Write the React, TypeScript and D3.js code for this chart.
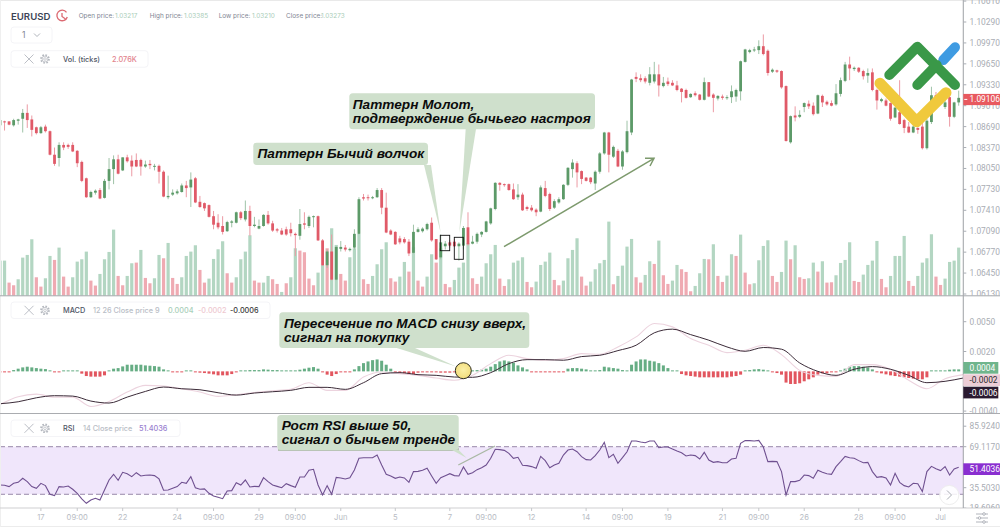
import React from "react";
import * as d3 from "d3";

// Prices are stored in pips above 1.0600
const PRICE_BASE = 1.06;
const opens = [
  271,277,277,271,278,281,290,280,268,259, 269,262,226,221,241,241,241,232,215,190,
  161,168,172,160,186,204,219,202,222,217, 218,218,208,212,208,209,200,161,165,167,
  169,179,176,190,154,152,149,132,122,117, 109,122,122,138,127,140,117,113,117,134,
  121,112,110,112,112,105,102,121,117,131, 132,95,57,78,35,82,84,80,84,105,
  161,161,160,161,172,145,110,108,98,97, 93,76,108,109,112,122,97,69,86,92,
  93,86,87,115,90,93,104,108,121,143, 183,181,181,173,161,165,146,145,142,139,
  175,166,145,153,158,180,204,213,201,191, 191,182,200,228,260,223,232,208,230,260,
  345,343,343,336,338,349,331,338,336,332, 327,325,314,320,318,310,337,318,312,315,
  313,314,315,323,368,383,386,386,392,385, 353,355,354,331,245,286,284,299,304,301,
  289,316,307,305,303,319,339,364,357,359, 354,347,352,325,308,309,305,283,291,279,
  269,260,267,269,236,276,317,310,299,314,284,306,
];
const closes = [
  279,276,272,279,280,290,279,264,259,268, 262,226,212,241,237,238,231,213,186,161,
  169,171,159,186,204,219,197,222,216,208, 208,208,211,210,209,200,162,163,168,170,
  179,175,188,153,146,144,131,119,115,108, 123,124,138,129,140,117,119,117,134,121,
  110,110,104,104,106,103,120,119,131,132, 95,57,78,35,85,85,81,82,105,158,
  159,160,161,172,145,107,104,89,92,92, 75,108,112,113,120,95,66,92,90,87,
  86,90,114,89,93,105,108,124,144,183, 180,180,172,158,165,141,143,141,138,176,
  163,143,155,158,180,206,214,199,189,186, 184,200,228,260,226,238,208,231,262,341,
  342,340,338,349,349,332,336,334,332,325, 322,313,319,317,310,337,315,313,316,313,
  314,323,325,369,387,386,387,392,380,351, 356,353,329,247,285,283,287,305,300,288,
  317,306,303,301,320,340,364,358,359,353, 346,351,325,309,311,301,281,298,273,267,
  260,269,264,236,278,317,309,313,306,284,306,313,
];
const highs = [
  281,278,277,281,281,296,303,286,269,270, 272,263,237,245,245,243,245,233,217,191,
  171,173,175,189,221,225,226,222,226,225, 228,220,217,218,212,211,202,194,173,173,
  182,186,199,192,163,153,150,140,135,132, 125,126,139,140,156,148,131,127,135,140,
  125,114,114,116,122,107,143,138,133,133, 133,97,81,104,86,94,88,84,112,161,
  166,165,163,175,175,168,112,109,102,100, 97,119,115,115,122,130,97,104,94,95,
  97,92,117,138,102,107,109,125,145,184, 184,182,182,182,181,168,148,149,144,179,
  186,168,158,161,181,207,219,216,202,192, 192,202,230,261,261,240,235,233,278,342,
  352,349,346,360,368,364,345,344,340,339, 328,327,320,323,319,344,337,320,317,318,
  317,332,327,370,388,388,391,401,410,387, 358,356,355,332,286,300,294,306,309,306,
  318,318,309,309,334,344,368,376,361,360, 356,358,358,327,313,312,306,299,340,281,
  276,271,268,286,281,330,322,317,314,317,307,324,
];
const lows = [
  268,263,271,269,272,260,267,254,257,258, 260,225,209,208,233,235,230,207,184,160,
  160,165,158,159,173,181,196,201,214,193, 207,194,206,204,202,182,161,158,163,165,
  168,161,146,152,145,140,130,112,112,104, 108,115,121,126,124,102,115,112,116,119,
  108,107,103,102,101,71,96,112,114,115, 94,56,53,34,34,78,78,78,81,104,
  156,156,158,160,135,106,103,88,89,90, 71,75,107,107,110,93,65,66,81,84,
  85,64,81,87,89,90,100,107,119,141, 171,177,171,157,157,140,140,139,132,138,
  161,140,143,151,157,178,191,176,181,185, 181,172,197,226,199,221,207,203,228,256,
  337,337,335,332,335,315,329,331,331,323, 306,312,313,315,309,309,314,291,309,310,
  310,305,307,309,367,381,383,380,378,347, 351,351,327,246,243,277,282,291,296,286,
  288,299,301,300,301,315,337,340,354,351, 341,336,323,295,306,300,278,282,272,259,
  259,259,258,234,234,273,306,306,296,269,282,301,
];
const volumes = [
  105,105,39,31,49,114,122,169,55,27, 52,119,107,144,57,27,55,102,109,132,
  45,30,65,109,131,198,59,31,59,97, 99,137,53,37,52,122,112,158,53,35,
  55,119,132,151,77,39,51,110,139,163, 67,39,55,109,132,181,45,39,39,59,
  49,35,11,37,55,142,135,130,51,31, 69,92,142,202,152,65,45,115,142,185,
  49,35,59,94,139,160,52,42,57,101, 72,145,45,27,57,124,99,142,35,25,
  47,84,99,157,52,35,57,97,124,152, 51,29,49,99,105,115,41,25,42,92,
  102,129,47,31,45,112,137,172,57,30, 42,79,97,107,222,34,59,90,147,170,
  55,39,62,103,95,165,61,35,45,92, 79,71,13,29,67,110,109,154,59,41,
  60,124,119,183,69,34,37,106,149,166, 59,41,71,165,109,151,55,50,52,99,
  72,103,39,40,61,98,107,160,44,41, 63,92,105,164,50,25,59,119,119,179,
  44,29,59,99,112,184,57,32,51,101,105,144,
];
const volumeDirs = [
  "uudduuuudd","uududduuuu","dduuuudduu","dudduududd","uuuudduuuu","dduuuudduu","dduduudddd","uuduu",
  "dduuu","dduuuudduu","dudduududd","uuuudduuuu","dduuuudduu","uudduuuudd","uuuuuduuuu","dduudu",
  "dduu","ddduuududd","uududduuuu","dduududduu","dudduuuudd","uuuudduuuu","dduuuudduuuu",
].join("");
// MACD histogram, in units of 0.0001
const macdHist = [
  -0.7,-0.7,-0.3,1.3,2.7,4,4.7,4,3.3,2.7, 2.3,0.7,-0.3,-0.7,0.2,0.2,0.2,0.2,-2.3,-4.7,
  -5.3,-5.3,-5.3,-4,0.3,2.7,3.3,5,6.7,6.7, 6.7,6.7,6,5.7,5.3,4.7,2,0.3,-0.7,-0.7,
  -0.7,0,0.3,-0.3,-1.3,-1.7,-2.3,-3,-4,-4, -4,-2.7,-1,0.3,1,1.3,1.3,1.3,2,1.7,
  1.3,1.3,1,0.7,1,1,1.7,2.7,3.7,4.3, 2.7,-0.7,-3.3,-4.7,-2.7,-0.3,-0.3,-0.2,2,5.3,
  8.3,10,11.3,12,10.7,6.7,2.7,-0.7,-1.3,-2, -3.3,-2.7,-1.3,-1,-0.3,-0.3,-1,-1.3,-1.3,-1.3,
  -1,0,0.3,0,0.3,1.3,1.7,2.7,4.7,7.3, 10,11,10,8.7,6,4,2,-0.3,-0.3,-0.2,
  -0.2,-0.2,-0.2,-0.3,-0.3,2.7,3.3,3.3,2.7,2, 1,0.7,1.3,4.7,4,3.3,2.7,1.3,1,6.7,
  10,12,12,10.7,10,8.3,6,3.3,0.7,0.1, -2.7,-4,-4.7,-5.3,-6,-6,-6,-6,-6,-6,
  -6,-5.3,-4.7,-3.3,0.2,1.3,2,2.3,1.7,0.2, -0.7,-1.7,-3.3,-11.3,-12.7,-12.7,-12,-10,-8,-6,
  -3.3,-2,-2,-1,-0.3,1,2.7,4.7,5.3,5.3, 4.7,4,2,-0.7,-2,-3,-4,-4.7,-5.3,-6,
  -6.7,-7.3,-8,-8,-6,0.3,0.3,0.3,1,1.7,2,2,
];
// MACD and signal lines, read every 4th bar, in units of 0.0001
const MACD_STEP = 4;
const macdLine = [
  -32.6,-30.6,-26.6,-24.5,-24.9,-29.9,-31.9,-25.9,-20.2,-15.8,-17.5,-18.5,-21.5,-23.9,-21.8,-20.5,-19.1,-16.1,-16.1,
  -18.1,-11.4,-2.3,-1.3,-3.3,-4,-5.7,-6,-1.3,7.8,11.8,11.8,11.2,14.9,16.2,20.9,26.3,38.8,
  42.5,37,31.4,24.6,20.2,24,22.3,8.5,0,-4,2.1,4.8,2.1,-4,-11.4,-10,-6.7,
];
const signalLine = [
  -33.3,-25.5,-22.9,-25.9,-25.9,-35.3,-30.3,-20.8,-14.1,-14.8,-17.5,-20.8,-25.2,-23.5,-21.2,-19.5,-18.1,-11.4,-19.1,
  -19.1,-5.7,-0.6,-2.3,-4,-6.7,-9,-4,7.8,16.2,12.8,11.2,12.8,17.9,17.2,24.6,34.7,48.2,
  44.8,33,26.3,18.9,21.3,26.3,16.9,1,-4,-5,6.8,6.8,2.1,-9,-17.5,-7.4,-3.3,
];
const rsiValues = [
  37.7,37.5,36.4,39.1,39.9,43.2,40.5,36.4,35,39.1, 37.2,30.1,29,36.4,36.1,36.9,34.2,30.9,26.3,22.7,
  25.4,26.8,25.4,33.6,41.8,46.5,41.6,48.1,47,44.6, 47.8,45.1,45.7,45.9,45.4,42.7,33.4,33.6,35,36.4,
  39.9,39.1,44.6,35.5,34.2,34.5,30.9,28.7,27.6,26.5, 32.8,33.1,39.6,37.7,41.8,36.1,36.6,36.4,43.7,40.5,
  37.7,36.6,35.5,38.8,37.2,35.8,44.3,44.3,49.8,50.6, 37.7,29.5,37.2,30.1,44,43.5,42.7,43.7,50,59.6,
  60.1,60.1,60.1,62.3,54.1,46.5,45.1,43.2,44.3,43.5, 39.9,48.7,48.9,49.8,51.4,45.1,39.1,43.7,45.4,47,
  45.4,45.1,52.5,46.5,47.8,50.3,51.9,54.1,59.6,67, 66.7,66.1,63.7,59.6,60.4,53.9,53.6,52.8,51.4,61.2,
  57.7,51.9,54.1,55.5,62.3,66.4,67.2,65,61,58.5, 58.2,61.8,66.4,72.7,60.1,62.9,55.5,60.1,65,73.8,
  73.8,73,72.4,73.8,73.8,68.3,68.9,68.9,67.2,65.6, 64.2,61.5,62.3,61.8,59,64.5,58.2,56.3,56.9,56,
  56,59,59.6,71.9,74.1,74.1,73.8,74.3,68.9,56.9, 57.1,56.9,48.7,29.5,40.5,40.5,41.6,45.9,45.4,43.2,
  49.8,48.1,47,46.5,52.8,56.9,61.2,60.1,59.6,57.7, 56,56.3,48.7,44,44.6,43.5,37.7,47.3,39.9,37.2,
  36.1,39.1,38.8,32.3,48.7,53,51.1,49.5,52.8,45.9,50.8,52.2,
];
const priceTicks = ["1.10610","1.10290","1.09970","1.09650","1.09330","1.09010","1.08690","1.08370","1.08050","1.07730","1.07410","1.07090","1.06770","1.06450","1.06130"];
const macdTicks = ["0.0050","0.0020","-0.0040"];
const rsiTicks = ["85.9240","69.1170","35.5030","18.6960"];
const timeIndex = [9,17,27,39,47,57,65,75,87,99,107,117,129,137,147,159,167,177,189,197,207];
const timeLabels = ["17","09:00","22","24","09:00","29","09:00","Jun","5","7","09:00","12","14","09:00","19","21","09:00","26","28","09:00","Jul"];
const RSI_UPPER = 69.117;
const RSI_LOWER = 30.1;
const LAST_PRICE = 1.09106;

const UP = "#5c9a68", UP_W = "#9fc3a8", DOWN = "#e05a68", DOWN_W = "#ec9aa4";
const VOL_UP = "#b3d6c2", VOL_DOWN = "#efaab2";
const AXIS_X = 963.3;
const FONT = "Inter, Roboto, sans-serif";
const TICK = "#a9adb4";
const CALLOUT = "#cfe0cc";

const x = d3.scaleLinear().domain([0, 211]).range([0, 958.7]);
const yPrice = d3.scaleLinear().domain([1.0613, 1.1029]).range([294, 22]);
const yVol = d3.scaleLinear().domain([0, 222]).range([295.6, 221.6]);
const yMacd = d3.scaleLinear().domain([0.005, -0.004]).range([321.7, 411.1]);
const yRsi = d3.scaleLinear().domain([85.924, 18.696]).range([426.2, 508.2]);
const p = (v: number) => yPrice(PRICE_BASE + v / 10000);
const lineMacd = d3.line<number>().x((_, i) => x(i * MACD_STEP)).y((v) => yMacd(v / 10000)).curve(d3.curveMonotoneX);
const lineRsi = d3.line<number>().x((_, i) => x(i)).y((v) => yRsi(v));

function Gear({ cx, cy }: { cx: number; cy: number }) {
  return (
    <g fill="none" stroke="#b4b8bf">
      <circle cx={cx} cy={cy} r={3.9} strokeWidth={1.8} strokeDasharray="1.6 1.45" />
      <circle cx={cx} cy={cy} r={2.9} strokeWidth={0.7} />
      <circle cx={cx} cy={cy} r={1.3} strokeWidth={0.7} />
    </g>
  );
}
function Cross({ cx, cy }: { cx: number; cy: number }) {
  return <path d={`M${cx - 4.5} ${cy - 4.5}L${cx + 4.5} ${cy + 4.5}M${cx + 4.5} ${cy - 4.5}L${cx - 4.5} ${cy + 4.5}`} stroke="#b4b8bf" strokeWidth={0.9} />;
}
function Legend({ y, w, children }: { y: number; w: number; children: React.ReactNode }) {
  return (
    <g>
      <rect x={11} y={y - 8.3} width={w} height={16.5} rx={3} fill="#fff" stroke="#f4f4f7" />
      <Cross cx={29} cy={y} />
      <Gear cx={45} cy={y} />
      <text y={y + 2.8} fontFamily={FONT} fontSize={7.3} fontWeight={500}>{children}</text>
    </g>
  );
}
function Callout({ box, tip, lines, tx, ty, fill = CALLOUT }: { box: number[]; tip: number[]; lines: string[]; tx: number; ty: number; fill?: string }) {
  const [x0, y0, x1, y1] = box;
  return (
    <g>
      <path d={`M${tip[0]} ${tip[1]}L${tip[2]} ${tip[3]}L${tip[4]} ${tip[5]}Z`} fill={fill} />
      <rect x={x0} y={y0} width={x1 - x0} height={y1 - y0} rx={3.5} fill={fill} />
      <text fontFamily="'Liberation Sans', Arial, sans-serif" fontStyle="italic" fontWeight={700} fontSize={13.65} fill="#0b0b0b">
        {lines.map((l, i) => (
          <tspan key={i} x={tx} y={ty + i * 14}>{l}</tspan>
        ))}
      </text>
    </g>
  );
}

export default function App() {
  return (
    <svg width={1000} height={527} viewBox="0 0 1000 527" style={{ position: "absolute", left: 0, top: 0, display: "block", background: "#fff" }}>
      <defs>
        <clipPath id="pricePane"><rect x={0} y={0} width={1000} height={295.6} /></clipPath>
        <clipPath id="macdPane"><rect x={0} y={296} width={1000} height={117} /></clipPath>
        <clipPath id="rsiPane"><rect x={0} y={414} width={1000} height={94} /></clipPath>
        <clipPath id="plot"><rect x={0} y={0} width={AXIS_X} height={527} /></clipPath>
        <radialGradient id="dot" cx="50%" cy="45%" r="55%">
          <stop offset="0%" stopColor="#fbf0a8" />
          <stop offset="100%" stopColor="#f2dc7c" />
        </radialGradient>
      </defs>

      {/* header */}
      <text x={11} y={19.5} fontFamily={FONT} fontSize={9.6} fontWeight={600} fill="#3d4456">EURUSD</text>
      <g fill="none" stroke="#dc6a72" strokeWidth={1.3}>
        <path d="M66.5 12.3A5.3 5.3 0 1 0 67.3 17" />
        <path d="M62 13V16.5L65.5 19" />
      </g>
      <g fontFamily={FONT} fontSize={6.4}>
        <text x={78.7} y={18} fill="#7f8694">Open price:</text>
        <text x={115} y={18} fill="#a9cdb8">1.03217</text>
        <text x={149.7} y={18} fill="#7f8694">High price:</text>
        <text x={184} y={18} fill="#a9cdb8">1.03385</text>
        <text x={218.7} y={18} fill="#7f8694">Low price:</text>
        <text x={252} y={18} fill="#a9cdb8">1.03210</text>
        <text x={286} y={18} fill="#7f8694">Close price:</text>
        <text x={321} y={18} fill="#a9cdb8">1.03273</text>
      </g>
      <rect x={11} y={27} width={41} height={16} rx={3} fill="#fff" stroke="#f4f4f7" />
      <text x={22} y={38} fontFamily={FONT} fontSize={8.5} fill="#7f8694">1</text>
      <path d="M34 33.5L37 36.5L40 33.5" fill="none" stroke="#9ca1a9" strokeWidth={0.8} />

      <Legend y={59} w={137}>
        <tspan x={63} fill="#4f5566">Vol. (ticks)</tspan>
        <tspan x={112} fill="#e2838d">2.076K</tspan>
      </Legend>

      {/* volume */}
      <g clipPath="url(#plot)">
        {volumes.map((v, i) => (
          <rect key={i} x={x(i) - 1.6} y={yVol(v)} width={3.2} height={yVol(0) - yVol(v)} fill={volumeDirs[i] === "u" ? VOL_UP : VOL_DOWN} />
        ))}
      </g>

      {/* candles */}
      <g clipPath="url(#plot)">
        {opens.map((o, i) => {
          const c = closes[i];
          const up = c >= o;
          const top = p(Math.max(o, c));
          const bot = p(Math.min(o, c));
          return (
            <g key={i}>
              <line x1={x(i)} x2={x(i)} y1={p(highs[i])} y2={p(lows[i])} stroke={up ? UP_W : DOWN_W} strokeWidth={1} />
              <rect x={x(i) - 1.4} y={top} width={2.8} height={Math.max(bot - top, 1)} fill={up ? UP : DOWN} />
            </g>
          );
        })}
      </g>

      {/* MACD */}
      <Legend y={310.3} w={259}>
        <tspan x={63} fill="#4f5566">MACD</tspan>
        <tspan x={93} fill="#b9bdc6">12 26 Close price 9</tspan>
        <tspan x={168} fill="#a9cfba">0.0004</tspan>
        <tspan x={198} fill="#eec9d1">-0.0002</tspan>
        <tspan x={230} fill="#3a3a3a">-0.0006</tspan>
      </Legend>
      <g clipPath="url(#plot)">
        {macdHist.map((v, i) => {
          const y0 = yMacd(0);
          const y1 = yMacd(v / 10000);
          const h = Math.max(Math.abs(y1 - y0), 1);
          return <rect key={i} x={x(i) - 1.5} y={v >= 0 ? y0 - h : y0} width={3} height={h} fill={v >= 0 ? "#66ad84" : "#e2565f"} />;
        })}
        <path d={lineMacd(signalLine) ?? ""} fill="none" stroke="#ecd3de" strokeWidth={1.1} />
        <path d={lineMacd(macdLine) ?? ""} fill="none" stroke="#3b2b38" strokeWidth={1} />
      </g>

      {/* RSI */}
      <rect x={0} y={yRsi(RSI_UPPER)} width={AXIS_X} height={yRsi(RSI_LOWER) - yRsi(RSI_UPPER)} fill="#f0e6fb" />
      {[RSI_UPPER, RSI_LOWER].map((v) => (
        <line key={v} x1={0} x2={AXIS_X} y1={yRsi(v)} y2={yRsi(v)} stroke="#8d7c9f" strokeWidth={0.9} strokeDasharray="5 3" />
      ))}
      <path d={lineRsi(rsiValues) ?? ""} fill="none" stroke="#6f5090" strokeWidth={1.1} clipPath="url(#plot)" />
      <Legend y={428.3} w={169}>
        <tspan x={63} fill="#4f5566">RSI</tspan>
        <tspan x={83} fill="#b9bdc6">14 Close price</tspan>
        <tspan x={139} fill="#9a7fd0">51.4036</tspan>
      </Legend>

      {/* frame */}
      <line x1={0} x2={1000} y1={0.5} y2={0.5} stroke="#e9e9e9" />
      <line x1={0} x2={1000} y1={526.5} y2={526.5} stroke="#ececec" />
      <line x1={0.5} x2={0.5} y1={0} y2={527} stroke="#efefef" />
      <line x1={0} x2={1000} y1={295.8} y2={295.8} stroke="#a4a7ab" strokeWidth={1} />
      <line x1={0} x2={1000} y1={413.5} y2={413.5} stroke="#aaacb0" strokeWidth={1} />
      <line x1={0} x2={1000} y1={508} y2={508} stroke="#cfd0d2" strokeWidth={1.2} />
      <line x1={AXIS_X} x2={AXIS_X} y1={0} y2={508} stroke="#a6a9ad" strokeWidth={1.1} />

      {/* axes */}
      <g fontFamily="Roboto, sans-serif" fontSize={8.4} fill={TICK}>
        <g clipPath="url(#pricePane)">
          {priceTicks.map((t) => (
            <g key={t}>
              <line x1={AXIS_X} x2={AXIS_X + 3} y1={yPrice(+t)} y2={yPrice(+t)} stroke={TICK} />
              <text x={969.5} y={yPrice(+t) + 3}>{t}</text>
            </g>
          ))}
        </g>
        <g clipPath="url(#macdPane)">
          {macdTicks.map((t) => (
            <g key={t}>
              <line x1={AXIS_X} x2={AXIS_X + 3} y1={yMacd(+t)} y2={yMacd(+t)} stroke={TICK} />
              <text x={969.5} y={yMacd(+t) + 3}>{t}</text>
            </g>
          ))}
        </g>
        <g clipPath="url(#rsiPane)">
          {rsiTicks.map((t) => (
            <g key={t}>
              <line x1={AXIS_X} x2={AXIS_X + 3} y1={yRsi(+t)} y2={yRsi(+t)} stroke={TICK} />
              <text x={969.5} y={yRsi(+t) + 3}>{t}</text>
            </g>
          ))}
        </g>
        <g fontFamily={FONT} fontSize={7.6} fill="#b8bcc4" textAnchor="middle">
          {timeIndex.map((idx, i) => (
            <g key={idx}>
              <line x1={x(idx)} x2={x(idx)} y1={508} y2={511} stroke="#c5c7ca" />
              <text x={x(idx)} y={519.6}>{timeLabels[i]}</text>
            </g>
          ))}
        </g>
      </g>

      {/* last value labels */}
      <g fontFamily="Roboto, sans-serif" fontSize={8.4}>
        <rect x={AXIS_X} y={yPrice(LAST_PRICE) - 5.5} width={37} height={11.2} fill="#e8595f" />
        <line x1={AXIS_X + 1} x2={AXIS_X + 4} y1={yPrice(LAST_PRICE)} y2={yPrice(LAST_PRICE)} stroke="#fff" />
        <text x={969.5} y={yPrice(LAST_PRICE) + 3} fill="#fff">1.09106</text>
        <rect x={AXIS_X} y={362} width={35} height={11.7} fill="#6fb58c" />
        <text x={969.5} y={371} fill="#fff">0.0004</text>
        <rect x={AXIS_X} y={374.3} width={37} height={11.7} fill="#eccdd6" />
        <text x={969.5} y={383.3} fill="#2b2b2b">-0.0002</text>
        <rect x={AXIS_X} y={386.7} width={35} height={11.7} fill="#2a1a30" />
        <text x={969.5} y={395.6} fill="#fff">-0.0006</text>
        <rect x={AXIS_X} y={463.3} width={37} height={11.7} fill="#8a2fd0" />
        <text x={969.5} y={472.2} fill="#fff">51.4036</text>
      </g>

      {/* annotations */}
      <rect x={440.3} y={235.3} width={9.4} height={15.4} fill="none" stroke="#111" strokeWidth={0.9} />
      <rect x={454.3} y={237.3} width={9} height={22} fill="none" stroke="#111" strokeWidth={0.9} />
      <g fill="none" stroke="#7d9a6d" strokeWidth={1.5}>
        <path d="M504 246.7L654 158.3" />
        <path d="M645 158.3L654 158.3L650 166" />
      </g>
      <Callout box={[253.3, 142.7, 428, 165]} tip={[424, 165, 431, 165, 440.7, 233]} lines={["Паттерн Бычий волчок"]} tx={257.5} ty={158} />
      <Callout box={[349.3, 93.3, 595, 129.3]} tip={[465.7, 129, 476, 129, 459.3, 233]} lines={["Паттерн Молот,", "подтверждение бычьего настроя"]} tx={352.8} ty={109} />
      <Callout box={[279.3, 312.3, 529.3, 348]} tip={[396.7, 348, 415, 348, 456.7, 366.7]} lines={["Пересечение по MACD снизу вверх,", "сигнал на покупку"]} tx={284} ty={328} />
      <circle cx={463.3} cy={370.7} r={8} fill="url(#dot)" stroke="#2d2d20" strokeWidth={1} />
      <path d="M458.3 465L495 446" stroke="#a9b8a4" strokeWidth={1.4} fill="none" />
      <rect x={278} y={448} width={181} height={3} fill="#b9c4b6" />
      <Callout box={[277.3, 415, 458.7, 450]} tip={[452, 450, 458.7, 450, 466.7, 458]} lines={["Рост RSI выше 50,", "сигнал о бычьем тренде"]} tx={281.7} ty={430} />

      {/* next button and settings icon */}
      <circle cx={949.3} cy={495} r={9.6} fill="#fff" fillOpacity={0.85} stroke="#eee" />
      <path d="M947 490.5L951.5 495L947 499.5" fill="none" stroke="#a9adb4" strokeWidth={1} />
      <g stroke="#a9adb4" strokeWidth={0.9} fill="#fff">
        <line x1={976} x2={988} y1={514} y2={514} />
        <line x1={976} x2={988} y1={518} y2={518} />
        <line x1={976} x2={988} y1={522} y2={522} />
        <circle cx={984} cy={514} r={1.3} />
        <circle cx={979.5} cy={518} r={1.3} />
        <circle cx={984} cy={522} r={1.3} />
      </g>

      {/* logo */}
      <g fill="none" strokeLinecap="round" strokeLinejoin="round">
        <path d="M943.3 60L955 47.3" stroke="#3f9be2" strokeWidth={10} />
        <path d="M889.3 75L917.3 46.7L955 85M917.3 85L936.7 65" stroke="#3a9848" strokeWidth={10} />
        <path d="M880 83.3L916.7 121.7L946 92.7" stroke="#f0c93c" strokeWidth={11} />
      </g>
    </svg>
  );
}
